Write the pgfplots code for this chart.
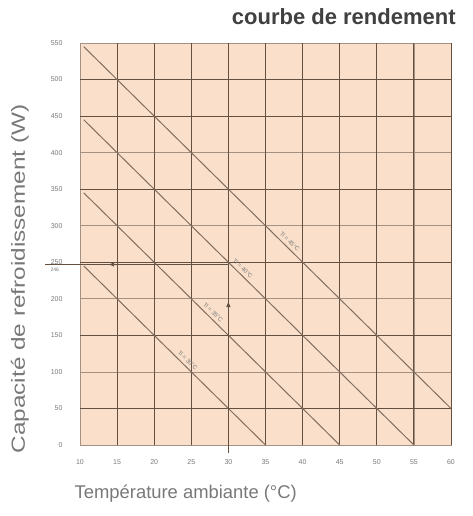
\documentclass[border=0pt]{standalone}
\usepackage{pgfplots}
\pgfplotsset{compat=1.18}
\usepackage{fontspec}
\setmainfont{Liberation Sans}
\usetikzlibrary{arrows.meta}

\definecolor{peach}{RGB}{250,224,202}
\definecolor{griddark}{RGB}{100,80,65}
\definecolor{gridlight}{RGB}{165,145,130}
\definecolor{curve}{RGB}{130,110,95}
\definecolor{txt}{RGB}{120,120,120}

\begin{document}
\begin{tikzpicture}
\begin{axis}[
  scale only axis,
  width=371pt, height=402pt,
  xmin=10, xmax=60, ymin=0, ymax=550,
  xtick={10,15,...,60},
  ytick={0,50,...,550},
  major tick length=0pt,
  axis background/.style={fill=peach},
  axis line style={gridlight, line width=0.6pt},
  ymajorgrids, xmajorgrids,
  major grid style={gridlight, line width=0.7pt},
  extra y ticks={50,150,250,350,450,500},
  extra y tick labels={},
  extra y tick style={grid=major, major grid style={griddark, line width=0.9pt}},
  extra x ticks={15,20,...,60},
  extra x tick labels={},
  extra x tick style={grid=major, major grid style={griddark, line width=0.9pt}},
  /pgf/number format/assume math mode=true,
  ticklabel style={font=\fontsize{7}{8}\selectfont, text=txt},
  yticklabel style={xshift=-14pt},
  xticklabel style={yshift=-11pt},
  clip=false,
]
\addplot[curve, line width=1pt] coordinates {(10.5,545) (60,50)}
  node[pos=0.55, sloped, above, yshift=2pt, font=\fontsize{6}{7}\selectfont, text=txt, inner sep=1pt] {Ti = 45°C};
\addplot[curve, line width=1pt] coordinates {(10.5,445) (55,0)}
  node[pos=0.47, sloped, above, yshift=2pt, font=\fontsize{6}{7}\selectfont, text=txt, inner sep=1pt] {Ti = 40°C};
\addplot[curve, line width=1pt] coordinates {(10.5,345) (45,0)}
  node[pos=0.49, sloped, above, yshift=2pt, font=\fontsize{6}{7}\selectfont, text=txt, inner sep=1pt] {Ti = 35°C};
\addplot[curve, line width=1pt] coordinates {(10.5,245) (35,0)}
  node[pos=0.55, sloped, above, yshift=2pt, font=\fontsize{6}{7}\selectfont, text=txt, inner sep=1pt] {Ti = 30°C};

% lecture du graphique
\draw[griddark, line width=0.9pt, -{Latex[length=6pt,width=4.5pt]}] (axis cs:30,-11) -- (axis cs:30,197);
\draw[griddark, line width=0.9pt] (axis cs:30,195) -- (axis cs:30,247);
\draw[griddark, line width=0.9pt, -{Latex[length=6pt,width=4.5pt]}] (axis cs:30,247) -- (axis cs:13.8,247);
\draw[griddark, line width=0.9pt] (axis cs:14,247) -- (axis cs:5.3,247);
\node[font=\fontsize{5}{6}\selectfont, text=txt, anchor=north, inner sep=0.5pt] at (axis cs:6.6,243) {246};

\node[rotate=90, text=txt, font=\fontsize{19}{20}\selectfont] at (rel axis cs:-0.162,0.413)
  {\scalebox{1.28}[1]{Capacité de refroidissement (W)}};
\node[text=txt, font=\fontsize{18.4}{20}\selectfont] at (rel axis cs:0.285,-0.12) {Température ambiante (°C)};
\node[anchor=east, text={black!75}, font=\bfseries\fontsize{22}{24}\selectfont] at (rel axis cs:1.022,1.065) {courbe de rendement};
\end{axis}
\path[use as bounding box] (current axis.south west) ++(-80pt,-71pt) rectangle ([shift={(22pt,43pt)}]current axis.north east);
\end{tikzpicture}
\end{document}
